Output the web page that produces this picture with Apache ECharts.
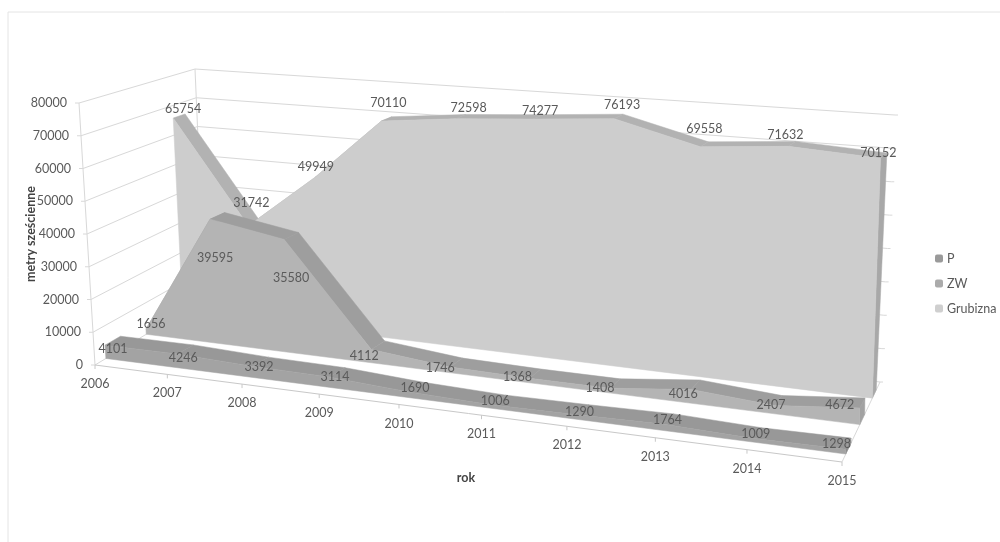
<!DOCTYPE html>
<html><head><meta charset="utf-8">
<style>html,body{margin:0;padding:0;background:#fff}#c{width:1000px;height:542px}</style>
<script src="https://cdn.jsdelivr.net/npm/echarts@6/dist/echarts.min.js"></script>
</head><body><div id="c"></div>
<script>
// ---- data ----
const years = ['2006','2007','2008','2009','2010','2011','2012','2013','2014','2015'];
const valueTicks = [0,10000,20000,30000,40000,50000,60000,70000,80000];
const seriesP = [4101,4246,3392,3114,1690,1006,1290,1764,1009,1298];
const seriesZW = [1656,39595,35580,4112,1746,1368,1408,4016,2407,4672];
const seriesGrubizna = [65754,31742,49949,70110,72598,74277,76193,69558,71632,70152];

// ---- small pixel nudges of the data labels from their projected points ----
const nudgeP = [[8,4],[6,4],[7,1],[6,0],[6,-4],[4,-4],[4,-3],[5,-4],[3,-4],[-9,-5]];
const nudgeZW = [[5,-5],[5,39],[7,39],[-7,6],[-10,1],[-12,-1],[-10,0],[-8,4],[-4,0],[-20,-3]];
const nudgeGrubizna = [[10,-9],[3,-23],[1,-10],[7,-18],[13,-11],[7,-8],[8,-14],[4,-18],[-3,-11],[-2,-5]];

// ---- perspective frame (pixel corners of the chart's box) ----
const floorQuad = [[95,365],[842,462],[880,382],[205,299]];
const topQuad   = [[79,103],[829,162],[895,115],[195,69]];
function homography(q){
  const [p0,p1,p2,p3]=q;
  const dx1=p1[0]-p2[0],dx2=p3[0]-p2[0],sx=p0[0]-p1[0]+p2[0]-p3[0];
  const dy1=p1[1]-p2[1],dy2=p3[1]-p2[1],sy=p0[1]-p1[1]+p2[1]-p3[1];
  const d=dx1*dy2-dx2*dy1;
  const g=(sx*dy2-dx2*sy)/d,h=(dx1*sy-sx*dy1)/d;
  const a=p1[0]-p0[0]+g*p1[0],b=p3[0]-p0[0]+h*p3[0],c=p0[0];
  const e=p1[1]-p0[1]+g*p1[1],f=p3[1]-p0[1]+h*p3[1],k=p0[1];
  return (u,z)=>{const w=g*u+h*z+1;return [(a*u+b*z+c)/w,(e*u+f*z+k)/w];};
}
const floorH=homography(floorQuad), topH=homography(topQuad);
const G={left:100,top:100,width:700,height:300};
function projector(api){
  return (i,v,z)=>{
    const c=api.coord([i,v]);
    let u=(c[0]-G.left)/G.width; const t=(G.top+G.height-c[1])/G.height;
    const k=1+0.095*Math.max(0,1-z/0.5);   // extra foreshortening toward the front
    u=u/(u+k*(1-u));
    const a=floorH(u,z), b=topH(u,z);
    return [a[0]+(b[0]-a[0])*t, a[1]+(b[1]-a[1])*t];
  };
}
const TXT='#5a5a5a', FONT='Lato';
function text(x,y,s,align){
  return {type:'text',silent:true,style:{x:x,y:y,text:s,fill:TXT,font:'12.5px '+FONT,align:align||'center',verticalAlign:'middle'}};
}
function poly(pts,fill){return {type:'polygon',silent:true,shape:{points:pts},style:{fill:fill,stroke:fill,lineWidth:0.5}};}
function line(a,b,col){return {type:'line',silent:true,shape:{x1:a[0],y1:a[1],x2:b[0],y2:b[1]},style:{stroke:col||'#d8d8d8',lineWidth:1,fill:null}};}

function rowRender(values,z0,z1,front,topc,side,nudge){
  return function(params,api){
    const P=projector(api), i=params.dataIndex, ch=[];
    if(i===0){
      const n=values.length, l=n-1;
      ch.push(poly([P(l,0,z0),P(l,values[l],z0),P(l,values[l],z1),P(l,0,z1)],side));
      for(let k=0;k<l;k++) ch.push(poly([P(k,values[k],z0),P(k+1,values[k+1],z0),P(k+1,values[k+1],z1),P(k,values[k],z1)],topc));
      const pts=[P(0,0,z0)];
      for(let k=0;k<n;k++) pts.push(P(k,values[k],z0));
      pts.push(P(l,0,z0));
      ch.push(poly(pts,front));
    }
    const a=P(i,values[i],z0);
    ch.push(text(a[0]+nudge[i][0],a[1]+nudge[i][1],String(values[i])));
    return {type:'group',children:ch};
  };
}
function rowSeries(name,values,z0,z1,front,topc,side,nudge,legendColor){
  return {type:'custom',name:name,coordinateSystem:'cartesian2d',clip:false,silent:true,
    encode:{x:0,y:1},itemStyle:{color:legendColor},
    data:values.map((v,i)=>[i,v]),renderItem:rowRender(values,z0,z1,front,topc,side,nudge)};
}
const wallSeries={type:'custom',name:'walls',coordinateSystem:'cartesian2d',clip:false,silent:true,encode:{x:0,y:1},
  data:valueTicks.map(v=>[0,v]),
  renderItem(params,api){
    const P=projector(api),v=api.value(1),l=years.length-1,ch=[];
    const top=valueTicks[valueTicks.length-1];
    const fl=P(0,v,0),bl=P(0,v,1),br=P(l,v,1);
    ch.push(line(fl,bl),line(bl,br));
    ch.push(line([fl[0]-4,fl[1]],fl));
    ch.push(line(br,[br[0]+3,br[1]]));
    ch.push(text(fl[0]-12,fl[1],String(v),'right'));
    if(v===0) ch.push(line(P(0,0,0),P(0,top,0)),line(P(l,0,0),P(l,0,1)),line(P(0,0,0),P(l,0,0),'#c8c8c8'),line(P(0,0,1),P(0,top,1)));
    return {type:'group',children:ch};
  }};
const xTickSeries={type:'custom',name:'years',coordinateSystem:'cartesian2d',clip:false,silent:true,encode:{x:0,y:1},
  data:years.map((y,i)=>[i,0]),
  renderItem(params,api){
    const P=projector(api),i=params.dataIndex,a=P(i,0,0);
    return {type:'group',children:[line(a,[a[0],a[1]+4],'#c8c8c8'),text(a[0],a[1]+19,years[i])]};
  }};

const chart=echarts.init(document.getElementById('c'),null,{renderer:'canvas'});
chart.setOption({
  animation:false,backgroundColor:'#fff',
  grid:Object.assign({},G,{containLabel:false}),
  xAxis:{type:'category',data:years,boundaryGap:false,show:false},
  yAxis:{type:'value',min:0,max:80000,interval:10000,show:false},
  legend:{orient:'vertical',left:930,top:247,itemWidth:8,itemHeight:8,itemGap:12,data:['P','ZW','Grubizna'],
    textStyle:{color:TXT,fontFamily:FONT,fontSize:12.5,padding:[0,0,0,-1]},selectedMode:false},
  graphic:[
    {type:'rect',silent:true,shape:{x:8,y:12,width:1000,height:600},style:{fill:null,stroke:'#e4e4e4',lineWidth:1}},
    {type:'text',silent:true,x:31,y:234,rotation:Math.PI/2,style:{text:'metry sześcienne',fill:'#444',font:'bold 12.5px '+FONT,align:'center',verticalAlign:'middle'}},
    {type:'text',silent:true,x:466,y:478,style:{text:'rok',fill:'#444',font:'bold 12.5px '+FONT,align:'center',verticalAlign:'middle'}}
  ],
  series:[wallSeries,xTickSeries,
    rowSeries('Grubizna',seriesGrubizna,0.78,0.89,'#cdcdcd','#b2b2b2','#a8a8a8',nudgeGrubizna,'#cfcfcf'),
    rowSeries('ZW',seriesZW,0.44,0.57,'#b4b4b4','#9e9e9e','#a2a2a2',nudgeZW,'#ababab'),
    rowSeries('P',seriesP,0.09,0.22,'#a3a3a3','#989898','#8c8c8c',nudgeP,'#9a9a9a')
  ]
});
</script></body></html>
